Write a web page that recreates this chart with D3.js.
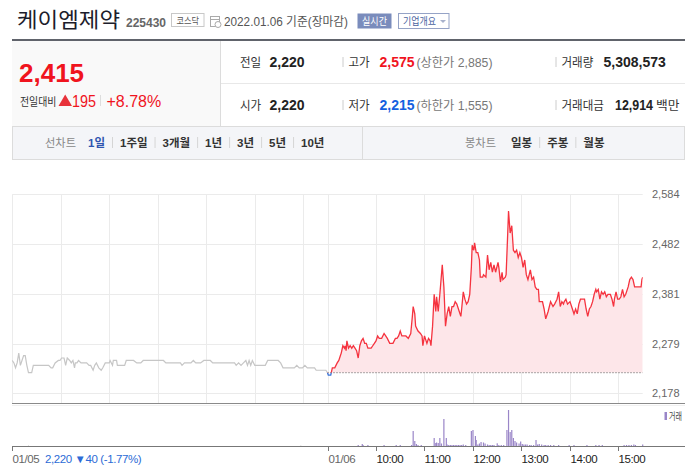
<!DOCTYPE html>
<html><head><meta charset="utf-8">
<script src="https://cdn.jsdelivr.net/npm/d3@7"></script>
<style>
body{margin:0;background:#fff;}
svg{display:block;font-family:"Liberation Sans","Noto Sans CJK KR",sans-serif;}
</style></head><body>
<svg id="chart" width="685" height="472"></svg>
<script>
var stockName = "케이엠제약", stockCode = "225430", market = "코스닥", asOf = "2022.01.06 기준(장마감)";
var prevClose = 2220, lastPrice = 2415, change = 195, changePct = "+8.78%";

// previous session (01/05), [time, price]
var prevDay = [["09:00",2245],["09:02",2240],["09:04",2230],["09:06",2240],["09:08",2260],["09:10",2235],["09:12",2245],["09:14",2255],["09:16",2255],["09:18",2235],["09:20",2220],["09:24",2220],["09:26",2235],["09:45",2235],["09:48",2230],["09:50",2230],["09:53",2240],["09:57",2245],["09:59",2245],["10:01",2250],["10:04",2250],["10:06",2235],["10:08",2250],["10:11",2245],["10:13",2240],["10:15",2245],["10:17",2230],["10:18",2240],["10:20",2240],["10:22",2245],["10:25",2240],["10:27",2240],["10:32",2240],["10:35",2235],["10:37",2235],["10:40",2225],["10:42",2235],["10:44",2240],["10:47",2230],["10:50",2225],["10:52",2230],["10:55",2240],["10:57",2240],["11:00",2240],["11:01",2245],["11:04",2235],["11:05",2245],["11:08",2245],["11:09",2245],["11:10",2235],["11:19",2235],["11:21",2245],["11:30",2245],["11:34",2240],["11:39",2240],["11:42",2245],["12:07",2245],["12:10",2240],["12:28",2240],["12:30",2235],["12:33",2240],["12:41",2240],["12:44",2245],["12:47",2240],["12:53",2240],["12:57",2245],["13:05",2245],["13:08",2240],["13:35",2240],["13:37",2235],["13:40",2240],["13:43",2235],["13:46",2240],["13:49",2245],["13:51",2235],["13:53",2245],["13:55",2235],["13:57",2245],["14:00",2235],["14:13",2235],["14:16",2245],["14:29",2245],["14:32",2240],["14:35",2230],["14:49",2230],["14:52",2235],["14:55",2230],["14:59",2230],["15:02",2235],["15:05",2230],["15:08",2230],["15:11",2230],["15:14",2230],["15:16",2225],["15:18",2225],["15:28",2225],["15:30",2220]];

// current session (01/06), [time, price]
var today = [["09:00",2220],["09:01",2215],["09:04",2215],["09:06",2230],["09:09",2230],["09:12",2240],["09:14",2245],["09:16",2255],["09:17",2260],["09:19",2275],["09:21",2270],["09:22",2275],["09:23",2265],["09:24",2285],["09:26",2270],["09:28",2275],["09:30",2270],["09:32",2275],["09:34",2270],["09:36",2265],["09:38",2250],["09:40",2275],["09:42",2285],["09:44",2290],["09:46",2280],["09:48",2280],["09:50",2270],["09:54",2270],["09:56",2275],["09:58",2280],["10:00",2285],["10:02",2295],["10:04",2290],["10:07",2290],["10:10",2300],["10:12",2295],["10:14",2290],["10:17",2280],["10:21",2280],["10:24",2290],["10:26",2290],["10:28",2295],["10:30",2305],["10:32",2295],["10:34",2295],["10:37",2295],["10:40",2290],["10:43",2300],["10:45",2335],["10:46",2355],["10:48",2340],["10:49",2315],["10:52",2305],["10:55",2300],["10:57",2295],["10:58",2275],["11:00",2295],["11:02",2285],["11:03",2280],["11:05",2290],["11:07",2285],["11:08",2275],["11:10",2315],["11:12",2380],["11:14",2345],["11:15",2375],["11:17",2345],["11:19",2380],["11:20",2400],["11:22",2440],["11:24",2395],["11:26",2315],["11:28",2340],["11:30",2355],["11:32",2335],["11:34",2355],["11:36",2355],["11:38",2365],["11:40",2360],["11:43",2345],["11:45",2335],["11:46",2350],["11:48",2385],["11:50",2370],["11:52",2360],["11:54",2365],["11:56",2380],["11:58",2435],["11:59",2480],["12:01",2470],["12:02",2485],["12:04",2465],["12:06",2465],["12:08",2450],["12:09",2415],["12:12",2415],["12:13",2420],["12:16",2415],["12:18",2460],["12:20",2430],["12:22",2445],["12:24",2425],["12:26",2440],["12:28",2425],["12:31",2445],["12:32",2435],["12:34",2405],["12:36",2425],["12:37",2410],["12:40",2415],["12:41",2420],["12:43",2505],["12:44",2550],["12:46",2505],["12:48",2520],["12:50",2470],["12:52",2465],["12:54",2470],["12:56",2455],["12:58",2465],["13:00",2455],["13:02",2435],["13:04",2450],["13:06",2420],["13:08",2410],["13:11",2430],["13:13",2410],["13:15",2415],["13:17",2395],["13:19",2390],["13:21",2390],["13:22",2365],["13:26",2365],["13:28",2350],["13:30",2330],["13:33",2345],["13:36",2365],["13:39",2355],["13:41",2360],["13:44",2370],["13:46",2385],["13:48",2355],["13:50",2365],["13:52",2360],["13:53",2365],["13:55",2370],["13:57",2360],["14:00",2365],["14:02",2355],["14:05",2340],["14:07",2350],["14:09",2340],["14:11",2360],["14:13",2370],["14:15",2370],["14:18",2370],["14:20",2350],["14:22",2335],["14:24",2350],["14:26",2355],["14:28",2365],["14:30",2380],["14:32",2390],["14:33",2385],["14:35",2390],["14:37",2370],["14:39",2385],["14:41",2380],["14:43",2385],["14:45",2375],["14:47",2380],["14:50",2380],["14:52",2370],["14:54",2355],["14:55",2370],["14:57",2385],["14:59",2370],["15:01",2370],["15:03",2375],["15:05",2390],["15:07",2375],["15:09",2380],["15:12",2395],["15:14",2410],["15:16",2415],["15:18",2410],["15:20",2395],["15:28",2395],["15:29",2410],["15:30",2415]];

// volume, [time, shares]
var prevVolume = [["09:20",6000],["14:57",6000]];
var volume = [["09:38",10000],["09:43",20000],["09:44",10000],["09:50",10000],["10:10",10000],["10:25",10000],["10:30",10000],["10:44",10000],["10:46",150000],["10:48",50000],["10:50",20000],["10:52",10000],["10:56",10000],["11:12",80000],["11:14",30000],["11:15",35000],["11:17",30000],["11:19",80000],["11:21",25000],["11:24",270000],["11:27",80000],["11:28",15000],["11:30",10000],["11:32",10000],["11:34",10000],["11:36",10000],["11:38",10000],["11:40",10000],["11:42",10000],["11:44",10000],["11:46",10000],["11:48",15000],["11:51",10000],["11:58",150000],["12:00",160000],["12:03",100000],["12:04",60000],["12:06",15000],["12:08",25000],["12:10",40000],["12:13",35000],["12:15",25000],["12:18",15000],["12:20",10000],["12:22",10000],["12:24",10000],["12:26",10000],["12:30",27000],["12:32",10000],["12:35",10000],["12:38",10000],["12:42",160000],["12:44",360000],["12:46",140000],["12:48",160000],["12:50",80000],["12:52",50000],["12:54",35000],["12:57",25000],["12:59",45000],["13:01",20000],["13:03",15000],["13:05",15000],["13:07",15000],["13:10",10000],["13:12",10000],["13:15",10000],["13:18",60000],["13:20",15000],["13:22",20000],["13:25",15000],["13:28",10000],["13:30",10000],["13:33",10000],["13:36",10000],["13:40",10000],["13:46",10000],["13:59",10000],["14:05",10000],["14:21",10000],["14:32",10000],["14:36",10000],["14:40",10000],["15:07",10000],["15:10",10000],["15:13",10000],["15:16",10000],["15:19",15000],["15:21",10000],["15:30",15000]];

var yTicks = [2178, 2279, 2381, 2482, 2584];
var xTickLabels = ["01/05", "01/06", "10:00", "11:00", "12:00", "13:00", "14:00", "15:00"];
var lineTabs = ["1일", "1주일", "3개월", "1년", "3년", "5년", "10년"];
var candleTabs = ["일봉", "주봉", "월봉"];

var svg = d3.select("#chart");
var fmt = d3.format(",");
var kr = "Noto Sans CJK KR";

function mins(t, day) {
  var p = t.split(":");
  return day * 390 + (+p[0] - 9) * 60 + (+p[1]);
}
function tickMin(l) {
  if (l == "01/05") return 0;
  if (l == "01/06") return 390;
  return mins(l, 1);
}
// korean text squeezed to the narrower width of the original face
function krText(px, py, size, color, str, w) {
  var t = svg.append("text").attr("x", px).attr("y", py).attr("font-family", kr)
    .attr("font-size", size).attr("fill", color).text(str);
  if (w) t.attr("textLength", w).attr("lengthAdjust", "spacingAndGlyphs");
  return t;
}

// ---------- header
krText(17, 27, 21, "#1d1d2b", stockName, 103);
svg.append("text").attr("x", 126).attr("y", 26.5).attr("font-size", 12)
  .attr("font-weight", "bold").attr("fill", "#666").text(stockCode);
svg.append("rect").attr("x", 171.5).attr("y", 13.5).attr("width", 32.5).attr("height", 13)
  .attr("fill", "#fff").attr("stroke", "#c8c8c8");
krText(176.5, 24, 9.5, "#555", market, 22.5);
var cal = svg.append("g").attr("transform", "translate(210,16)").attr("fill", "none").attr("stroke", "#aaa");
cal.append("rect").attr("x", 0.5).attr("y", 0.5).attr("width", 9).attr("height", 10);
cal.append("line").attr("x1", 0.5).attr("x2", 9.5).attr("y1", 3.5).attr("y2", 3.5);
cal.append("circle").attr("cx", 8).attr("cy", 8.5).attr("r", 3).attr("fill", "#fff");
svg.append("text").attr("x", 224).attr("y", 26).attr("font-size", 12).attr("fill", "#555")
  .attr("textLength", 124).attr("lengthAdjust", "spacingAndGlyphs").text(asOf);
svg.append("rect").attr("x", 357.5).attr("y", 13.5).attr("width", 34).attr("height", 15).attr("fill", "#7a8cbc");
krText(362, 25, 10.5, "#fff", "실시간", 25);
svg.append("rect").attr("x", 398.5).attr("y", 13.5).attr("width", 50.5).attr("height", 15)
  .attr("fill", "#fff").attr("stroke", "#95a3c6");
krText(403, 25, 10.5, "#4a64a0", "기업개요", 33);
svg.append("path").attr("d", "M440,20L446,20L443,23Z").attr("fill", "#a8b2cc");
svg.append("line").attr("x1", 12).attr("x2", 685).attr("y1", 40).attr("y2", 40)
  .attr("stroke", "#60636b").attr("stroke-width", 2);

// ---------- quote panel
svg.append("rect").attr("x", 12).attr("y", 41).attr("width", 208).attr("height", 85).attr("fill", "#f9f9f9");
svg.append("line").attr("x1", 220.5).attr("x2", 220.5).attr("y1", 41).attr("y2", 126).attr("stroke", "#dcdcdc");
svg.append("line").attr("x1", 221).attr("x2", 685).attr("y1", 83.5).attr("y2", 83.5).attr("stroke", "#e8e8e8");

svg.append("text").attr("x", 19).attr("y", 82).attr("font-size", 26).attr("font-weight", "bold")
  .attr("fill", "#f0141e").text(fmt(lastPrice));
krText(20, 106, 11, "#333", "전일대비", 36.5);
svg.append("path").attr("d", "M58.5,106L72,106L65.2,94.5Z").attr("fill", "#e8323a");
svg.append("text").attr("x", 72).attr("y", 106.5).attr("font-size", 16).attr("fill", "#f0141e")
  .attr("textLength", 24).attr("lengthAdjust", "spacingAndGlyphs").text(change);
svg.append("line").attr("x1", 100.5).attr("x2", 100.5).attr("y1", 95).attr("y2", 106).attr("stroke", "#ddd");
svg.append("text").attr("x", 106.5).attr("y", 106.5).attr("font-size", 16).attr("fill", "#f0141e").text(changePct);

var statRows = [
  [["전일", "2,220", "#222", ""], ["고가", "2,575", "#f0141e", "(상한가 2,885)"], ["거래량", "5,308,573", "#222", ""]],
  [["시가", "2,220", "#222", ""], ["저가", "2,215", "#1560e0", "(하한가 1,555)"], ["거래대금", "12,914", "#222", "백만"]]
];
var colX = [[240, 269.5, 0], [348.5, 379.5, 416.5], [561.5, 603.5, 0]];
statRows.forEach(function(row, r) {
  var by = r == 0 ? 67 : 110;
  row.forEach(function(c, i) {
    var vx = i == 2 && r == 1 ? 615 : colX[i][1];
    krText(colX[i][0], by, 12.5, "#333", c[0], c[0].length * 10.6);
    var v = svg.append("text").attr("x", vx).attr("y", by).attr("font-size", 14)
      .attr("font-weight", "bold").attr("fill", c[2]).text(c[1]);
    if (i == 1) {
      svg.append("text").attr("x", colX[1][2]).attr("y", by).attr("font-size", 12)
        .attr("fill", "#777").attr("textLength", 76).attr("lengthAdjust", "spacingAndGlyphs").text(c[3]);
    } else if (c[3]) {
      v.attr("textLength", 38).attr("lengthAdjust", "spacingAndGlyphs");
      krText(656, by, 12.5, "#333", c[3], 23.5);
    }
    if (i > 0) svg.append("line").attr("x1", colX[i][0] - 5.5).attr("x2", colX[i][0] - 5.5)
      .attr("y1", by - 10).attr("y2", by).attr("stroke", "#ccc");
  });
});

// ---------- tab bar
svg.append("rect").attr("x", 12.5).attr("y", 126.5).attr("width", 672).attr("height", 33)
  .attr("fill", "#f4f5f8").attr("stroke", "#dcdcdc");
svg.append("line").attr("x1", 362.5).attr("x2", 362.5).attr("y1", 127).attr("y2", 159).attr("stroke", "#dcdcdc");
function tabs(label, x0, x1, items) {
  krText(x0, 147, 11.5, "#888", label, 31);
  var tx = x1;
  items.forEach(function(t, i) {
    if (i > 0) {
      svg.append("line").attr("x1", tx + 7.5).attr("x2", tx + 7.5).attr("y1", 137).attr("y2", 148).attr("stroke", "#d5d5d5");
      tx += 15;
    }
    var el = svg.append("text").attr("x", tx).attr("y", 147).attr("font-size", 11.5).attr("font-weight", "bold")
      .attr("fill", label == "선차트" && i == 0 ? "#2f55b0" : "#333").text(t);
    tx += el.node().getComputedTextLength();
  });
}
tabs("선차트", 45, 88, lineTabs);
tabs("봉차트", 465, 511, candleTabs);

// ---------- price chart
var plotL = 12.3, plotR = 642.7, plotT = 194.3, plotB = 393.3;
var x = d3.scaleLinear().domain([0, 780]).range([plotL, plotR]);
var y = d3.scaleLinear().domain([yTicks[0], yTicks[yTicks.length - 1]]).range([plotB, plotT]);
var vy = d3.scaleLinear().domain([0, d3.max(volume, function(d) { return d[1]; })]).range([446, 410]);

var prevData = prevDay.map(function(d) { return {m: mins(d[0], 0), p: d[1]}; });
var todayData = today.map(function(d) { return {m: mins(d[0], 1), p: d[1]}; });
var base = y(prevClose);

var defs = svg.append("defs");
defs.append("clipPath").attr("id", "above").append("rect")
  .attr("x", plotL).attr("y", 0).attr("width", plotR - plotL).attr("height", base);
defs.append("clipPath").attr("id", "below").append("rect")
  .attr("x", plotL).attr("y", base).attr("width", plotR - plotL).attr("height", 60);

var g = svg.append("g");
g.selectAll(".hgrid").data(yTicks).enter().append("line")
  .attr("x1", plotL).attr("x2", plotR)
  .attr("y1", function(d) { return Math.round(y(d)) + 0.5; })
  .attr("y2", function(d) { return Math.round(y(d)) + 0.5; })
  .attr("stroke", "#ebebeb");
var hours = [0, 60, 120, 180, 240, 300, 360, 390, 450, 510, 570, 630, 690, 750];
g.selectAll(".vgrid").data(hours).enter().append("line")
  .attr("x1", function(d) { return Math.round(x(d)) + 0.5; })
  .attr("x2", function(d) { return Math.round(x(d)) + 0.5; })
  .attr("y1", plotT).attr("y2", 403)
  .attr("stroke", "#ebebeb");

svg.append("g").selectAll("text").data(yTicks).enter().append("text")
  .attr("x", 652).attr("y", function(d) { return y(d) + 4; })
  .attr("font-size", 11).attr("fill", "#666").text(function(d) { return fmt(d); });

var area = d3.area().x(function(d) { return x(d.m); }).y0(base).y1(function(d) { return y(d.p); });
var line = d3.line().x(function(d) { return x(d.m); }).y(function(d) { return y(d.p); });

svg.append("path").datum(todayData).attr("d", area).attr("fill", "#fde6e9").attr("clip-path", "url(#above)");
svg.append("line").attr("x1", x(390)).attr("x2", plotR).attr("y1", base).attr("y2", base)
  .attr("stroke", "#555").attr("stroke-dasharray", "1,2");
svg.append("path").datum(prevData).attr("d", line).attr("fill", "none")
  .attr("stroke", "#c6c6c6").attr("stroke-width", 1.2);
svg.append("path").datum(todayData).attr("d", line).attr("fill", "none")
  .attr("stroke", "#f5333f").attr("stroke-width", 1.3).attr("clip-path", "url(#above)");
svg.append("path").datum(todayData).attr("d", line).attr("fill", "none")
  .attr("stroke", "#3a73d8").attr("stroke-width", 1.3).attr("clip-path", "url(#below)");

// ---------- volume
svg.append("line").attr("x1", 12).attr("x2", 685).attr("y1", 403.5).attr("y2", 403.5).attr("stroke", "#8a8a8a");
svg.append("line").attr("x1", 12).attr("x2", 685).attr("y1", 405.5).attr("y2", 405.5).attr("stroke", "#f0f0f0");

svg.append("g").selectAll("rect").data(prevVolume).enter().append("rect")
  .attr("x", function(d) { return x(mins(d[0], 0)) - 0.5; }).attr("width", 1)
  .attr("y", function(d) { return vy(d[1]); })
  .attr("height", function(d) { return 446 - vy(d[1]); })
  .attr("fill", "#cfcfcf");
svg.append("g").selectAll("rect").data(volume).enter().append("rect")
  .attr("x", function(d) { return x(mins(d[0], 1)) - 0.6; }).attr("width", 1.2)
  .attr("y", function(d) { return vy(d[1]); })
  .attr("height", function(d) { return 446 - vy(d[1]); })
  .attr("fill", "#9a86c8");

svg.append("rect").attr("x", 664.5).attr("y", 412).attr("width", 2.5).attr("height", 8).attr("fill", "#9a86c8");
krText(669, 420, 10, "#444", "거래", 13);

svg.append("line").attr("x1", 12).attr("x2", 685).attr("y1", 446.5).attr("y2", 446.5).attr("stroke", "#777");
var ticks = svg.append("g").selectAll("g").data(xTickLabels).enter().append("g")
  .attr("transform", function(d) { return "translate(" + (Math.round(x(tickMin(d))) + 0.5) + ",0)"; });
ticks.append("line").attr("y1", 446).attr("y2", 451).attr("stroke", "#777");
ticks.append("text").attr("x", 0).attr("y", 462.5).attr("font-size", 11.5).attr("letter-spacing", -0.4)
  .attr("fill", function(d) { return d.indexOf("/") > 0 ? "#666" : "#222"; })
  .text(function(d) { return d; });
svg.append("text").attr("x", 45).attr("y", 462.5).attr("font-size", 11.5).attr("letter-spacing", -0.4)
  .attr("fill", "#2c6bd6").text(fmt(prevClose) + " ▼40 (-1.77%)");
</script></body></html>
